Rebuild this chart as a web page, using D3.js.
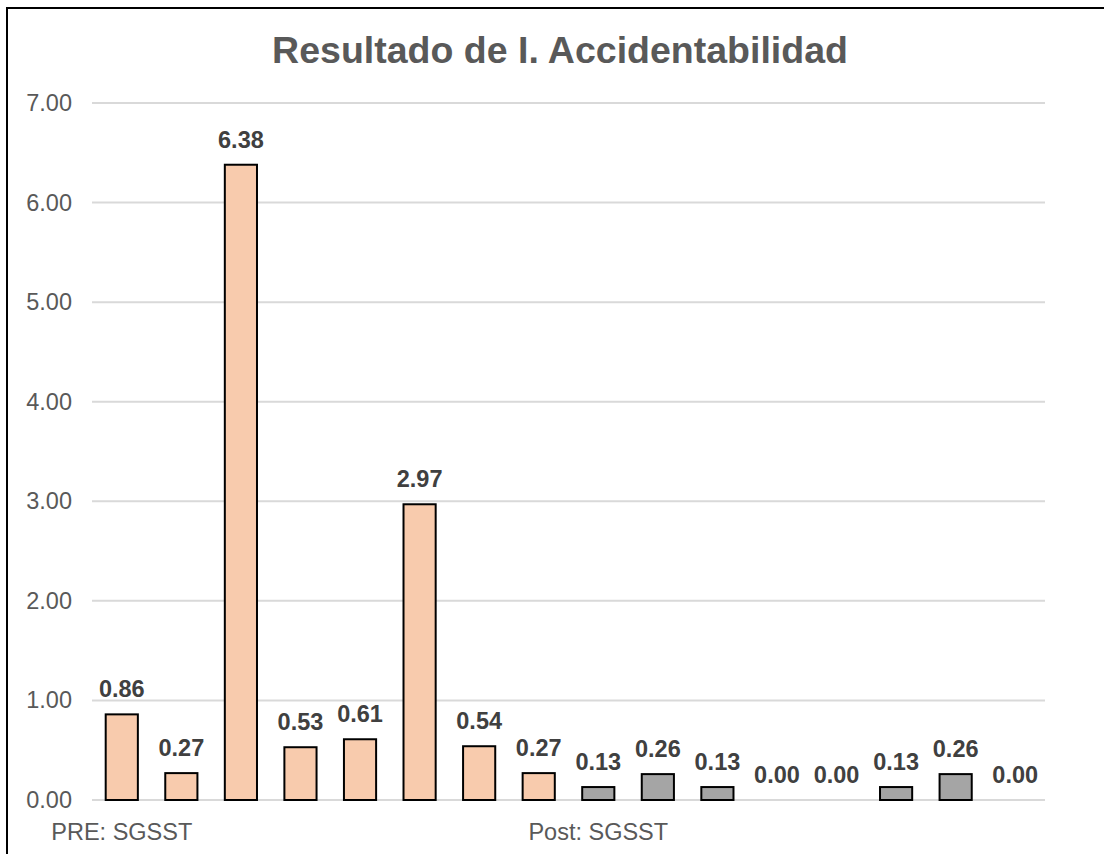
<!DOCTYPE html>
<html>
<head>
<meta charset="utf-8">
<script src="https://cdn.jsdelivr.net/npm/d3@7"></script>
<style>
  body { margin: 0; background: #fff; }
  svg { display: block; font-family: "Liberation Sans", Arial, sans-serif; }
</style>
</head>
<body>
<div id="chart"></div>
<script>
// chart data
var periods = ["PRE", "PRE", "PRE", "PRE", "PRE", "PRE", "PRE", "PRE",
               "POST", "POST", "POST", "POST", "POST", "POST", "POST", "POST"];
var values = [0.86, 0.27, 6.38, 0.53, 0.61, 2.97, 0.54, 0.27,
              0.13, 0.26, 0.13, 0.00, 0.00, 0.13, 0.26, 0.00];
var groupLabels = ["PRE: SGSST", "Post: SGSST"];
var groupStart = [0, 8]; // index of the bar each group label sits under
var yTicks = [0, 1, 2, 3, 4, 5, 6, 7];

var width = 1104;
var height = 854;
var margin = { top: 103, left: 92, right: 60, bottom: 54 };

var svg = d3.select("#chart")
    .append("svg")
    .attr("width", width)
    .attr("height", height);

// frame (runs off the right and bottom edge of the picture)
svg.append("rect")
    .attr("x", 7)
    .attr("y", 8)
    .attr("width", 1200)
    .attr("height", 1000)
    .attr("fill", "none")
    .attr("stroke", "#000")
    .attr("stroke-width", 2);

var x = d3.scaleBand()
    .domain(d3.range(values.length))
    .range([margin.left, width - margin.right + 1])
    .paddingInner(0.46)
    .paddingOuter(0.23);

var y = d3.scaleLinear()
    .domain([0, 7])
    .range([height - margin.bottom, margin.top]);

// title
svg.append("text")
    .attr("x", 560)
    .attr("y", 63)
    .attr("text-anchor", "middle")
    .attr("font-size", "37.5px")
    .attr("font-weight", "bold")
    .attr("fill", "#595959")
    .text("Resultado de I. Accidentabilidad");

// gridlines
svg.append("g")
    .selectAll("line")
    .data(yTicks)
    .enter()
    .append("line")
    .attr("x1", margin.left)
    .attr("x2", width - margin.right + 1)
    .attr("y1", function(d) { return y(d); })
    .attr("y2", function(d) { return y(d); })
    .attr("stroke", "#d9d9d9")
    .attr("stroke-width", 2);

// y tick labels
svg.append("g")
    .selectAll("text")
    .data(yTicks)
    .enter()
    .append("text")
    .attr("x", 72)
    .attr("y", function(d) { return y(d) + 8; })
    .attr("text-anchor", "end")
    .attr("font-size", "23.5px")
    .attr("fill", "#595959")
    .text(function(d) { return d.toFixed(2); });

// bars
svg.append("g")
    .selectAll("rect")
    .data(values)
    .enter()
    .append("rect")
    .attr("x", function(d, i) { return x(i); })
    .attr("y", function(d) { return y(d); })
    .attr("width", x.bandwidth())
    .attr("height", function(d) { return y(0) - y(d); })
    .attr("fill", function(d, i) { return periods[i] == "PRE" ? "#f8cbad" : "#a5a5a5"; })
    .attr("stroke", function(d) { return d > 0 ? "#000" : "none"; })
    .attr("stroke-width", 2);

// value labels
svg.append("g")
    .selectAll("text")
    .data(values)
    .enter()
    .append("text")
    .attr("x", function(d, i) { return x(i) + x.bandwidth() / 2; })
    .attr("y", function(d) { return y(d) - 17; })
    .attr("text-anchor", "middle")
    .attr("font-size", "23.5px")
    .attr("font-weight", "bold")
    .attr("fill", "#404040")
    .text(function(d) { return d.toFixed(2); });

// category labels
svg.append("g")
    .selectAll("text")
    .data(groupLabels)
    .enter()
    .append("text")
    .attr("x", function(d, i) { return x(groupStart[i]) + x.bandwidth() / 2; })
    .attr("y", 840)
    .attr("text-anchor", "middle")
    .attr("font-size", "23.5px")
    .attr("fill", "#595959")
    .text(function(d) { return d; });
</script>
</body>
</html>
